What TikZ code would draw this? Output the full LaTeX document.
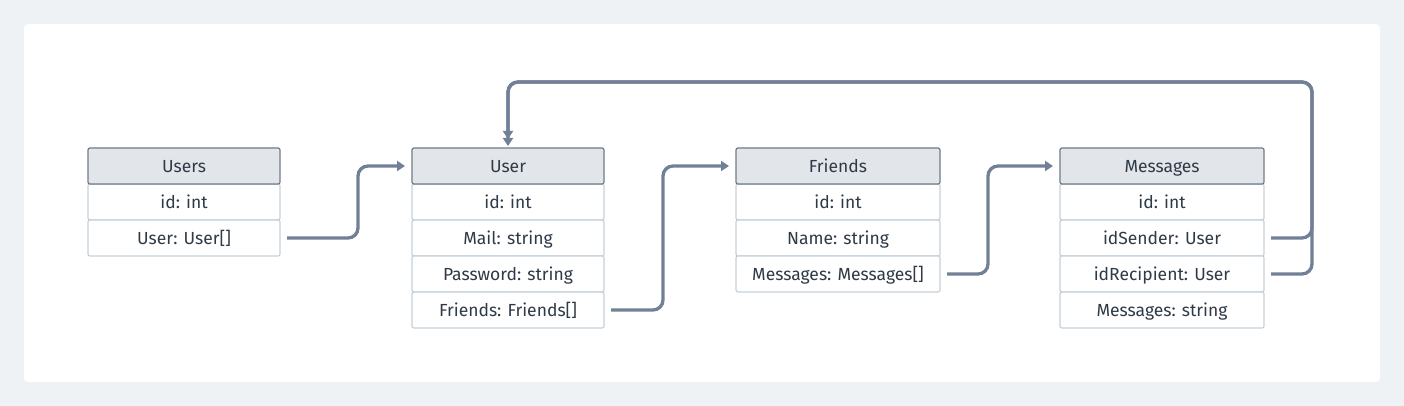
\documentclass[tikz,border=0pt]{standalone}
\usepackage{fontspec}
\setmainfont{Fira Sans}
\usetikzlibrary{positioning, arrows.meta}

\definecolor{pagebg}{HTML}{EEF2F5}
\definecolor{headfill}{HTML}{E2E6EA}
\definecolor{headline}{HTML}{6F7C8A}
\definecolor{rowline}{HTML}{C5D0DA}
\definecolor{linkcol}{HTML}{718096}
\definecolor{ink}{HTML}{2F3A47}

\begin{document}
\begin{tikzpicture}[x=1pt,y=1pt,node distance=0pt,
  cell/.style={draw=rowline, fill=white, line width=1.2pt, rounded corners=2pt,
    minimum height=36pt, minimum width=192pt, outer sep=0pt, inner sep=0pt,
    text height=13pt, text depth=1pt,
    text=ink, font=\fontsize{17.5}{20}\selectfont},
  head/.style={cell, draw=headline, fill=headfill},
  wide/.style={minimum width=204pt},
  link/.style={draw=linkcol, line width=3.3pt, rounded corners=10pt,
    -{Triangle[length=8pt,width=10pt]}, shorten <=7pt, shorten >=7pt}]

% page and panel
\fill[pagebg] (0,0) rectangle (1404,-406);
\fill[white, rounded corners=4pt] (24,-24) rectangle (1380,-382);

% Users
\node[cell] (usersId) at (184,-202) {id: int};
\node[head, above=of usersId] (usersHead) {Users};
\node[cell, below=of usersId] (usersRef) {User: User[]};

% User
\node[cell] (userId) at (508,-202) {id: int};
\node[head, above=of userId] (userHead) {User};
\node[cell, below=of userId] (userMail) {Mail: string};
\node[cell, below=of userMail] (userPass) {Password: string};
\node[cell, below=of userPass] (userFriends) {Friends: Friends[]};

% Friends
\node[cell, wide] (friendsId) at (838,-202) {id: int};
\node[head, wide, above=of friendsId] (friendsHead) {Friends};
\node[cell, wide, below=of friendsId] (friendsName) {Name: string};
\node[cell, wide, below=of friendsName] (friendsMsgs) {Messages: Messages[]};

% Messages
\node[cell, wide] (msgId) at (1162,-202) {id: int};
\node[head, wide, above=of msgId] (msgHead) {Messages};
\node[cell, wide, below=of msgId] (msgSender) {idSender: User};
\node[cell, wide, below=of msgSender] (msgRecipient) {idRecipient: User};
\node[cell, wide, below=of msgRecipient] (msgText) {Messages: string};

% links
\draw[link] (usersRef.east) -- ++(78,0) |- (userHead.west);
\draw[link] (userFriends.east) -- ++(59,0) |- (friendsHead.west);
\draw[link] (friendsMsgs.east) -- ++(48,0) |- (msgHead.west);
\draw[link, shorten >=2pt] (msgSender.east) -- ++(48,0) |- ([yshift=66]userHead.north) -- (userHead.north);
\draw[link, shorten >=9pt] (msgRecipient.east) -- ++(48,0) |- ([yshift=66]userHead.north) -- (userHead.north);
\end{tikzpicture}
\end{document}
